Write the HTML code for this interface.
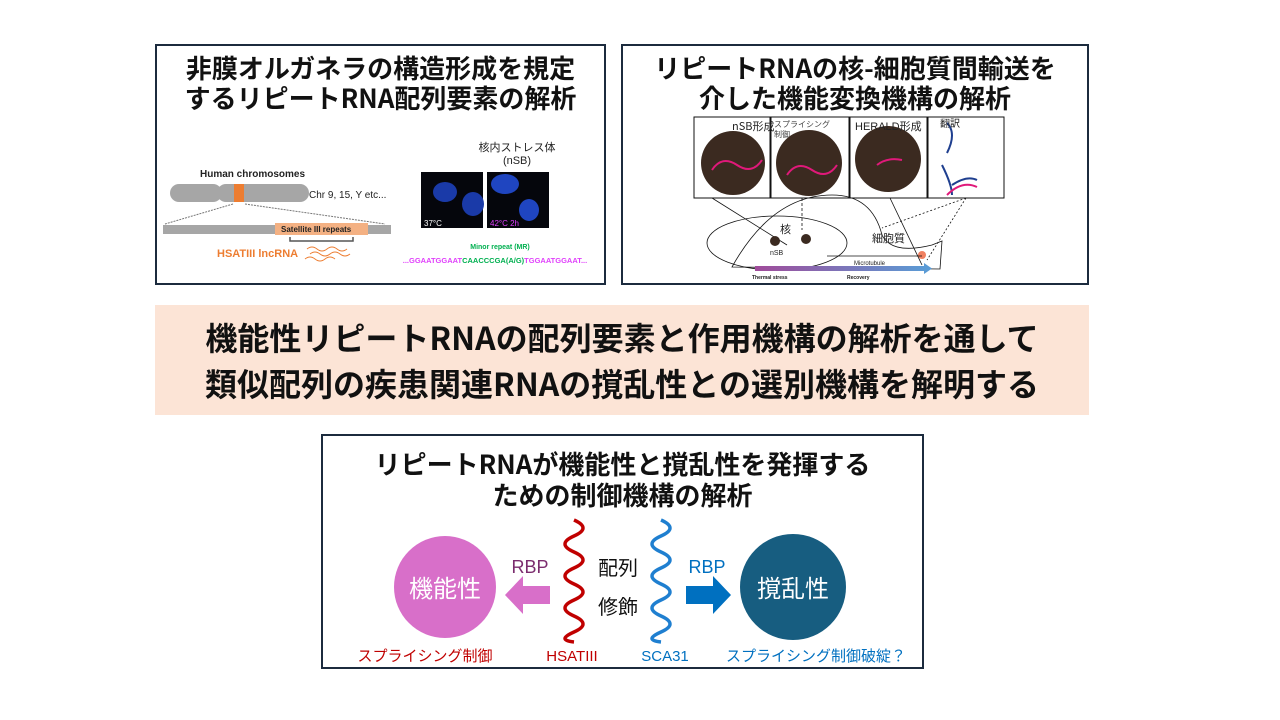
<!DOCTYPE html>
<html><head><meta charset="utf-8"><style>
*{margin:0;padding:0;box-sizing:border-box}
body{width:1280px;height:720px;background:#fff;position:relative;font-family:"Liberation Sans","Noto Sans CJK JP",sans-serif;overflow:hidden}
.box{position:absolute;border:2px solid #1c2b3e;background:#fff}
.t{position:absolute;left:0;right:0;text-align:center;font-weight:bold;font-family:"Noto Sans CJK JP",sans-serif;color:#111}
.a{position:absolute;white-space:nowrap}
</style></head><body>

<div class="box" style="left:155px;top:44px;width:451px;height:241px">
 <div class="t" style="top:7px;font-size:26px;line-height:30px">非膜オルガネラの構造形成を規定<br>するリピートRNA配列要素の解析</div>
</div>
<svg class="a" style="left:155px;top:44px" width="451" height="241">
 <text x="45" y="133" font-size="10" font-weight="bold" fill="#222" font-family="Liberation Sans">Human chromosomes</text>
 <rect x="15" y="140" width="52" height="18" rx="9" fill="#a6a6a6"/>
 <rect x="62" y="140" width="92" height="18" rx="9" fill="#a6a6a6"/>
 <rect x="79" y="140" width="10" height="18" fill="#ed7d31"/>
 <text x="154" y="154" font-size="10" fill="#222" font-family="Liberation Sans">Chr 9, 15, Y etc...</text>
 <line x1="78" y1="160" x2="10" y2="180" stroke="#777" stroke-dasharray="2,1"/>
 <line x1="90" y1="160" x2="230" y2="180" stroke="#777" stroke-dasharray="2,1"/>
 <rect x="8" y="181" width="228" height="9" fill="#a6a6a6"/>
 <rect x="120" y="179" width="93" height="12" fill="#f4b183"/>
 <text x="126" y="188" font-size="8" font-weight="bold" fill="#222" font-family="Liberation Sans">Satellite III repeats</text>
 <path d="M135 193 v4 h63 v-4" fill="none" stroke="#555" stroke-width="1.5"/>
 <text x="62" y="213" font-size="11" font-weight="bold" fill="#ed7d31" font-family="Liberation Sans">HSATIII lncRNA</text>
 <path d="M152 205 q5 -4 10 0 t10 0 t10 0 t10 0 M155 210 q5 -4 10 0 t10 0 t10 0 t10 0 M150 215 q5 -4 10 0 t10 0 t10 0" fill="none" stroke="#ed7d31" stroke-width="1"/>
 <text x="362" y="107" font-size="11" fill="#222" text-anchor="middle" font-family="Noto Sans CJK JP">核内ストレス体</text>
 <text x="362" y="120" font-size="11" fill="#222" text-anchor="middle" font-family="Liberation Sans">(nSB)</text>
 <rect x="266" y="128" width="62" height="56" fill="#05060c"/>
 <rect x="332" y="128" width="62" height="56" fill="#05060c"/>
 <ellipse cx="290" cy="148" rx="12" ry="10" fill="#1a3aa8"/><ellipse cx="318" cy="160" rx="11" ry="12" fill="#1a3aa8"/>
 <ellipse cx="350" cy="140" rx="14" ry="10" fill="#1f45c0"/><ellipse cx="374" cy="166" rx="10" ry="11" fill="#1f45c0"/>
 <text x="269" y="182" font-size="8" fill="#fff" font-family="Liberation Sans">37°C</text>
 <text x="335" y="182" font-size="8" fill="#e040fb" font-family="Liberation Sans">42°C 2h</text>
 <text x="345" y="205" font-size="7" font-weight="bold" fill="#00b050" text-anchor="middle" font-family="Liberation Sans">Minor repeat (MR)</text>
 <text x="340" y="219" font-size="7.5" font-weight="bold" text-anchor="middle" font-family="Liberation Sans"><tspan fill="#e040fb">...GGAATGGAAT</tspan><tspan fill="#00b050">CAACCCGA(A/G)</tspan><tspan fill="#e040fb">TGGAATGGAAT...</tspan></text>
</svg>

<div class="box" style="left:621px;top:44px;width:468px;height:241px">
 <div class="t" style="top:7px;font-size:26px;line-height:30px">リピートRNAの核-細胞質間輸送を<br>介した機能変換機構の解析</div>
</div>
<svg class="a" style="left:622px;top:45px" width="466" height="239">
 <g stroke="#111" stroke-width="1" fill="#fff">
  <rect x="72" y="72" width="76" height="81"/><rect x="149" y="72" width="78" height="81"/>
  <rect x="228" y="72" width="77" height="81"/><rect x="306" y="72" width="76" height="81"/>
 </g>
 <circle cx="111" cy="118" r="32" fill="#3b2a20"/>
 <circle cx="187" cy="118" r="33" fill="#3b2a20"/>
 <circle cx="266" cy="114" r="33" fill="#3b2a20"/>
 <path d="M90 125 q10-15 25-5 t25 -5" stroke="#e0197a" stroke-width="2" fill="none"/>
 <path d="M165 130 q10-15 25-5 t25 -5" stroke="#e0197a" stroke-width="2" fill="none"/>
 <path d="M255 120 q10-8 25-5" stroke="#e0197a" stroke-width="2" fill="none"/>
 <path d="M325 78 q10 10 0 30 M320 120 q10 20 10 30 M330 140 q15-10 25-5" stroke="#1f3f8f" stroke-width="2" fill="none"/>
 <path d="M325 150 q15-15 30-8" stroke="#e0197a" stroke-width="2" fill="none"/>
 <text x="110" y="85" font-size="11" fill="#222" font-family="Noto Sans CJK JP">nSB形成</text>
 <text x="152" y="82" font-size="8" fill="#444" font-family="Noto Sans CJK JP">スプライシング</text>
 <text x="152" y="92" font-size="8" fill="#444" font-family="Noto Sans CJK JP">制御</text>
 <text x="233" y="85" font-size="11" fill="#222" font-family="Liberation Sans">HERALD形成</text>
 <text x="318" y="82" font-size="10" fill="#222" font-family="Noto Sans CJK JP">翻訳</text>
 <g stroke="#111" stroke-width="0.8" fill="none">
  <line x1="90" y1="153" x2="165" y2="200"/><line x1="180" y1="153" x2="180" y2="185" stroke-dasharray="3,2"/>
  <line x1="268" y1="153" x2="300" y2="220"/><line x1="344" y1="153" x2="260" y2="183" stroke-dasharray="2,2"/>
  <line x1="344" y1="153" x2="305" y2="215" stroke-dasharray="2,2"/>
  <path d="M110 222 Q150 150 210 150 Q250 150 260 190 Q270 210 310 200 L320 196 L318 224 Z"/>
  <ellipse cx="155" cy="198" rx="70" ry="27"/>
 </g>
 <circle cx="153" cy="196" r="5" fill="#3b2a20"/><circle cx="184" cy="194" r="5" fill="#3b2a20"/>
 <circle cx="300" cy="210" r="4" fill="#f08060"/>
 <text x="158" y="188" font-size="11" fill="#222" font-family="Noto Sans CJK JP">核</text>
 <text x="250" y="197" font-size="11" fill="#222" font-family="Noto Sans CJK JP">細胞質</text>
 <text x="148" y="210" font-size="7" fill="#222" font-family="Liberation Sans">nSB</text>
 <line x1="205" y1="211" x2="300" y2="211" stroke="#111" stroke-width="0.8"/>
 <text x="232" y="220" font-size="6" fill="#222" font-family="Liberation Sans">Microtubule</text>
 <defs><linearGradient id="g"><stop offset="0" stop-color="#a04b9a"/><stop offset="1" stop-color="#5b9bd5"/></linearGradient></defs>
 <rect x="133" y="221" width="170" height="5" fill="url(#g)"/><path d="M302 218 l8 5.5 l-8 5.5z" fill="#5b9bd5"/>
 <text x="130" y="234" font-size="5" font-weight="bold" fill="#222" font-family="Liberation Sans">Thermal stress</text>
 <text x="225" y="234" font-size="5" font-weight="bold" fill="#222" font-family="Liberation Sans">Recovery</text>
</svg>

<div class="a" style="left:155px;top:305px;width:934px;height:110px;background:#fce4d6"></div>
<div class="t" style="top:314px;font-size:32px;line-height:46px;left:155px;width:934px">機能性リピートRNAの配列要素と作用機構の解析を通して<br>類似配列の疾患関連RNAの撹乱性との選別機構を解明する</div>

<div class="box" style="left:321px;top:434px;width:603px;height:235px">
 <div class="t" style="top:12px;font-size:26px;line-height:31px">リピートRNAが機能性と撹乱性を発揮する<br>ための制御機構の解析</div>
</div>
<svg class="a" style="left:0;top:0" width="1280" height="720">
 <circle cx="445" cy="587" r="51" fill="#d86fc9"/>
 <circle cx="793" cy="587" r="53" fill="#175d80"/>
 <text x="445" y="597" font-size="24" fill="#fff" text-anchor="middle" font-family="Noto Sans CJK JP">機能性</text>
 <text x="793" y="597" font-size="24" fill="#fff" text-anchor="middle" font-family="Noto Sans CJK JP">撹乱性</text>
 <path d="M550 586 h-27 v-10 l-18 19 l18 19 v-10 h27z" fill="#d86fc9"/>
 <path d="M686 586 h27 v-10 l18 19 l-18 19 v-10 h-27z" fill="#0070c0"/>
 <text x="530" y="573" font-size="18" fill="#7b2c6e" text-anchor="middle" font-family="Liberation Sans">RBP</text>
 <text x="707" y="573" font-size="18" fill="#0070c0" text-anchor="middle" font-family="Liberation Sans">RBP</text>
 <path d="M574 520 q18 8 0 16 t0 16 t0 16 t0 16 t0 16 t0 16 t0 16 t0 10" fill="none" stroke="#c00000" stroke-width="3.5"/>
 <path d="M661 520 q18 8 0 16 t0 16 t0 16 t0 16 t0 16 t0 16 t0 16 t0 10" fill="none" stroke="#1f7fd0" stroke-width="3.5"/>
 <text x="618" y="575" font-size="20" fill="#111" text-anchor="middle" font-family="Noto Sans CJK JP">配列</text>
 <text x="618" y="614" font-size="20" fill="#111" text-anchor="middle" font-family="Noto Sans CJK JP">修飾</text>
 <text x="425" y="661" font-size="15" fill="#c00000" text-anchor="middle" font-family="Noto Sans CJK JP">スプライシング制御</text>
 <text x="572" y="661" font-size="15" fill="#c00000" text-anchor="middle" font-family="Liberation Sans">HSATIII</text>
 <text x="665" y="661" font-size="15" fill="#0070c0" text-anchor="middle" font-family="Liberation Sans">SCA31</text>
 <text x="816" y="661" font-size="15" fill="#0070c0" text-anchor="middle" font-family="Noto Sans CJK JP">スプライシング制御破綻？</text>
</svg>
</body></html>
